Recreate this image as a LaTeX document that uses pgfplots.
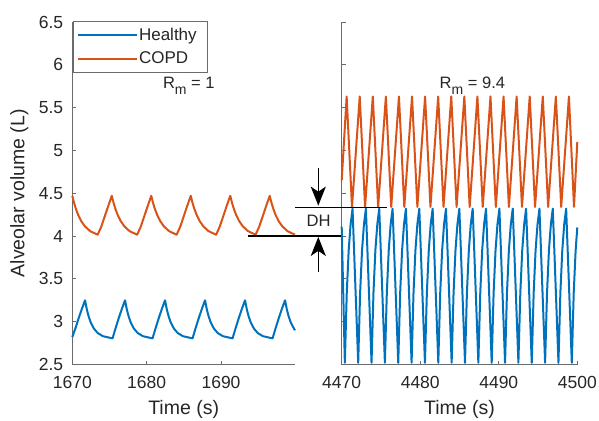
\documentclass[border=0pt]{standalone}
\usepackage{fontspec}
\setmainfont{Liberation Sans}
\usepackage{pgfplots}
\pgfplotsset{compat=1.18}
\usetikzlibrary{arrows.meta}
\definecolor{mblue}{rgb}{0,0.447,0.741}
\definecolor{morange}{rgb}{0.85,0.325,0.098}
\definecolor{axgray}{rgb}{0.42,0.42,0.42}
\pgfplotsset{
  panel/.style={
    scale only axis, height=342.5pt,
    ymin=2.5, ymax=6.5, ytick={2.5,3,3.5,4,4.5,5,5.5,6,6.5},
    axis lines*=left,
    axis line style={draw=axgray, line width=0.8pt},
    every tick/.style={draw=axgray, line width=0.8pt},
    tick align=inside, major tick length=4pt,
    tick label style={font=\fontsize{17.5}{20}\selectfont, text=black!85},
    /pgf/number format/assume math mode=true,
    /pgf/number format/1000 sep={},
    scaled ticks=false,
    xticklabel style={anchor=north, inner sep=0pt, yshift=-12pt},
    yticklabel style={anchor=east, inner sep=0pt, xshift=-9pt},
    label style={font=\fontsize{19.5}{23}\selectfont, text=black!85},
    xlabel={Time (s)},
    xlabel style={at={(axis description cs:0.5,-0.1474)}, anchor=base},
    every axis plot/.append style={line width=2pt, line join=round},
    clip=false,
  }
}
\begin{document}
\begin{tikzpicture}
\begin{axis}[panel,
  at={(72.3pt,55.5pt)}, anchor=south west, width=222.7pt,
  xmin=1670, xmax=1699.95, xtick={1670,1680,1690},
  ylabel={Alveolar volume (L)},
  ylabel style={at={(axis description cs:-0.215,0.5)}, anchor=base},
  legend cell align=left,
  legend image code/.code={\draw[#1] (0pt,0pt) -- (59pt,0pt);},
  legend style={at={(axis description cs:0.0016,1.0038)}, anchor=north west,
    draw=axgray, line width=0.8pt, fill=white, inner xsep=4pt, inner ysep=6pt,
    row sep=8pt, font=\fontsize{17}{20}\selectfont, text=black!85,
    nodes={inner sep=1pt},
    /tikz/every even column/.append style={column sep=2pt}},
]
\addplot[mblue] coordinates {
(1670,2.82)(1670.45,2.93)(1670.87,3.045)(1671.29,3.15)(1671.71,3.25)
(1671.96,3.141)(1672.21,3.058)(1672.51,2.985)(1672.91,2.919)(1673.41,2.868)(1674.11,2.831)(1675.41,2.805)(1675.83,2.926)(1676.25,3.043)(1676.67,3.151)(1677.09,3.25)
(1677.34,3.141)(1677.59,3.058)(1677.89,2.985)(1678.29,2.919)(1678.79,2.868)(1679.49,2.831)(1680.79,2.805)(1681.21,2.926)(1681.63,3.043)(1682.05,3.151)(1682.47,3.25)
(1682.72,3.141)(1682.97,3.058)(1683.27,2.985)(1683.67,2.919)(1684.17,2.868)(1684.87,2.831)(1686.17,2.805)(1686.59,2.926)(1687.01,3.043)(1687.43,3.151)(1687.85,3.25)
(1688.10,3.141)(1688.35,3.058)(1688.65,2.985)(1689.05,2.919)(1689.55,2.868)(1690.25,2.831)(1691.55,2.805)(1691.97,2.926)(1692.39,3.043)(1692.81,3.151)(1693.23,3.25)
(1693.48,3.141)(1693.73,3.058)(1694.03,2.985)(1694.43,2.919)(1694.93,2.868)(1695.63,2.831)(1696.93,2.805)(1697.35,2.926)(1697.77,3.043)(1698.19,3.151)(1698.61,3.25)
(1698.86,3.141)(1699.11,3.058)(1699.41,2.985)(1699.81,2.919)(1699.95,2.90)
};
\addlegendentry{Healthy\hspace*{6pt}}
\addplot[morange] coordinates {
(1670,4.47)(1670.25,4.384)(1670.5,4.314)(1670.8,4.245)(1671.2,4.175)(1671.7,4.113)(1672.4,4.057)(1673.41,4.016)(1673.885,4.107)(1674.36,4.229)(1674.835,4.352)(1675.31,4.47)
(1675.56,4.384)(1675.81,4.314)(1676.11,4.245)(1676.51,4.175)(1677.01,4.113)(1677.71,4.057)(1678.72,4.016)(1679.195,4.107)(1679.67,4.229)(1680.145,4.352)(1680.62,4.47)
(1680.87,4.384)(1681.12,4.314)(1681.42,4.245)(1681.82,4.175)(1682.32,4.113)(1683.02,4.057)(1684.03,4.016)(1684.505,4.107)(1684.98,4.229)(1685.455,4.352)(1685.93,4.47)
(1686.18,4.384)(1686.43,4.314)(1686.73,4.245)(1687.13,4.175)(1687.63,4.113)(1688.33,4.057)(1689.34,4.016)(1689.815,4.107)(1690.29,4.229)(1690.765,4.352)(1691.24,4.47)
(1691.49,4.384)(1691.74,4.314)(1692.04,4.245)(1692.44,4.175)(1692.94,4.113)(1693.64,4.057)(1694.65,4.016)(1695.125,4.107)(1695.6,4.229)(1696.075,4.352)(1696.55,4.47)
(1696.8,4.384)(1697.05,4.314)(1697.35,4.245)(1697.75,4.175)(1698.25,4.113)(1698.95,4.057)(1699.95,4.016)
};
\addlegendentry{COPD}
\node[anchor=base west, font=\fontsize{16.5}{20}\selectfont, text=black!85] at (axis cs:1681.73,5.725) {R\raisebox{-6pt}{\fontsize{14}{14}\selectfont m} = 1};
\end{axis}

\begin{axis}[panel,
  at={(341.7pt,55.5pt)}, anchor=south west, width=235.6pt,
  xmin=4470, xmax=4500, xtick={4470,4480,4490,4500},
  yticklabels={},
]
\addplot[morange] coordinates {
(4470,4.65)(4470.63,5.63)(4471.31,4.34)(4472.295,5.63)(4472.975,4.34)(4473.96,5.63)(4474.64,4.34)(4475.625,5.63)(4476.305,4.34)(4477.29,5.63)(4477.97,4.34)(4478.955,5.63)(4479.635,4.34)(4480.62,5.63)(4481.30,4.34)(4482.285,5.63)(4482.965,4.34)(4483.95,5.63)(4484.63,4.34)(4485.615,5.63)(4486.295,4.34)(4487.28,5.63)(4487.96,4.34)(4488.945,5.63)(4489.625,4.34)(4490.61,5.63)(4491.29,4.34)(4492.275,5.63)(4492.955,4.34)(4493.94,5.63)(4494.62,4.34)(4495.605,5.63)(4496.285,4.34)(4497.27,5.63)(4497.95,4.34)(4498.935,5.63)(4499.58,4.34)(4500,5.1)
};
\addplot[mblue] coordinates {
(4470,4.11)(4470.4,2.52)
(4470.645,3.339)(4470.89,3.836)(4471.135,4.138)(4471.38,4.32)(4472.1,2.52)
(4472.345,3.339)(4472.59,3.836)(4472.835,4.138)(4473.08,4.32)(4473.8,2.52)
(4474.045,3.339)(4474.29,3.836)(4474.535,4.138)(4474.78,4.32)(4475.5,2.52)
(4475.745,3.339)(4475.99,3.836)(4476.235,4.138)(4476.48,4.32)(4477.2,2.52)
(4477.445,3.339)(4477.69,3.836)(4477.935,4.138)(4478.18,4.32)(4478.9,2.52)
(4479.145,3.339)(4479.39,3.836)(4479.635,4.138)(4479.88,4.32)(4480.6,2.52)
(4480.845,3.339)(4481.09,3.836)(4481.335,4.138)(4481.58,4.32)(4482.3,2.52)
(4482.545,3.339)(4482.79,3.836)(4483.035,4.138)(4483.28,4.32)(4484.0,2.52)
(4484.245,3.339)(4484.49,3.836)(4484.735,4.138)(4484.98,4.32)(4485.7,2.52)
(4485.945,3.339)(4486.19,3.836)(4486.435,4.138)(4486.68,4.32)(4487.4,2.52)
(4487.645,3.339)(4487.89,3.836)(4488.135,4.138)(4488.38,4.32)(4489.1,2.52)
(4489.345,3.339)(4489.59,3.836)(4489.835,4.138)(4490.08,4.32)(4490.8,2.52)
(4491.045,3.339)(4491.29,3.836)(4491.535,4.138)(4491.78,4.32)(4492.5,2.52)
(4492.745,3.339)(4492.99,3.836)(4493.235,4.138)(4493.48,4.32)(4494.2,2.52)
(4494.445,3.339)(4494.69,3.836)(4494.935,4.138)(4495.18,4.32)(4495.9,2.52)
(4496.145,3.339)(4496.39,3.836)(4496.635,4.138)(4496.88,4.32)(4497.6,2.52)
(4497.845,3.339)(4498.09,3.836)(4498.335,4.138)(4498.58,4.32)(4499.3,2.52)
(4499.545,3.339)(4499.79,3.836)(4500,4.10)
};
\node[anchor=base west, font=\fontsize{16.5}{20}\selectfont, text=black!85] at (axis cs:4482.03,5.725) {R\raisebox{-6pt}{\fontsize{14}{14}\selectfont m} = 9.4};
% DH annotation
\draw[black, line width=1.8pt] (axis cs:4458.05,4.005) -- (axis cs:4469.91,4.005);
\draw[black, line width=1.8pt] (axis cs:4464.04,4.333) -- (axis cs:4475.74,4.333);
\draw[black, line width=1.6pt, -{Stealth[length=19pt,width=15pt,inset=5pt]}] (axis cs:4467.02,4.79) -- (axis cs:4467.02,4.355);
\draw[black, line width=1.6pt, -{Stealth[length=19pt,width=15pt,inset=5pt]}] (axis cs:4467.02,3.576) -- (axis cs:4467.02,3.99);
\node[anchor=base, font=\fontsize{16.6}{20}\selectfont, text=black!85] at (axis cs:4467.07,4.106) {DH};
\end{axis}
\pgfresetboundingbox
\path[use as bounding box] (0pt,0pt) rectangle (599pt,420pt);
\end{tikzpicture}
\end{document}
